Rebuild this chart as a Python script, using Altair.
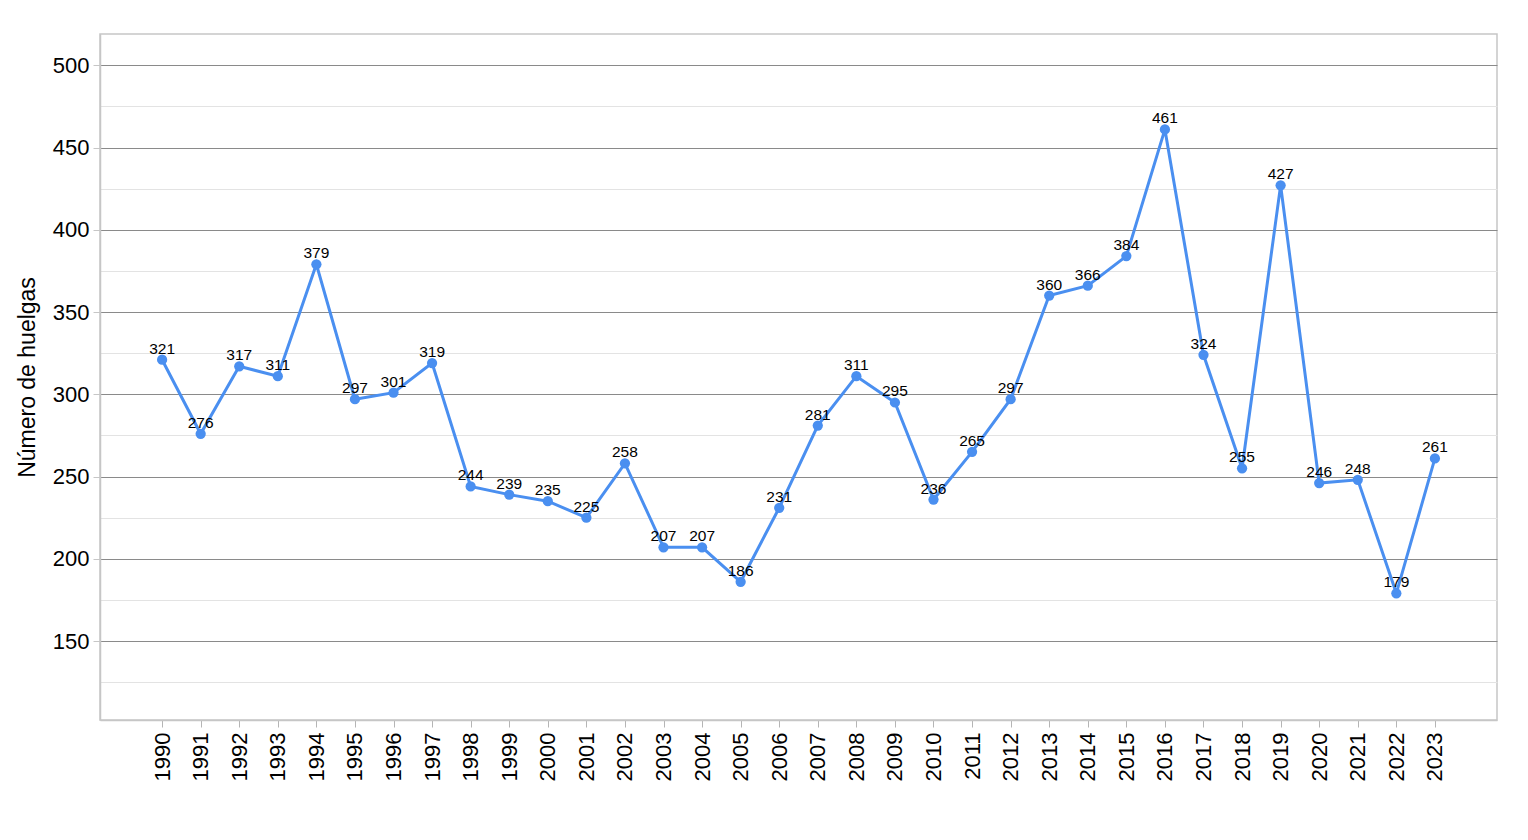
import altair as alt
import pandas as pd

years = list(range(1990, 2024))
huelgas = [
    321, 276, 317, 311, 379, 297, 301, 319, 244, 239,
    235, 225, 258, 207, 207, 186, 231, 281, 311, 295,
    236, 265, 297, 360, 366, 384, 461, 324, 255, 427,
    246, 248, 179, 261,
]
y_ticks = list(range(125, 501, 25))

df = pd.DataFrame({"Año": years, "Huelgas": huelgas})

font = "Liberation Sans"
blue = "#4a8ff0"

major = "datum.value % 50 === 0"

base = alt.Chart(df).encode(
    alt.X("Año:Q")
    .scale(domain=[1988.39, 2024.61], nice=False, zero=False)
    .axis(
        values=years,
        format="d",
        labelAngle=-90,
        labelFontSize=22,
        labelPadding=5,
        labelFlush=False,
        labelOverlap=False,
        tickSize=7,
        tickColor="#b5b5b5",
        domainColor="#c6c6c6",
        domainWidth=1.5,
        grid=False,
    )
    .title(None),
    alt.Y("Huelgas:Q")
    .scale(domain=[102, 519], nice=False, zero=False)
    .axis(
        values=y_ticks,
        labelExpr=f"{major} ? datum.label : ''",
        labelFontSize=22,
        labelPadding=4,
        tickSize=7,
        tickColor={"condition": {"test": major, "value": "#c6c6c6"}, "value": "rgba(0,0,0,0)"},
        gridColor={"condition": {"test": major, "value": "#8a8a8a"}, "value": "#e3e3e3"},
        gridWidth=1,
        domainColor="#c6c6c6",
        domainWidth=1.5,
        titleFontSize=23,
        titleFontWeight="normal",
        titlePadding=13,
    )
    .title("Número de huelgas"),
)

line = base.mark_line(color=blue, strokeWidth=3)
points = base.mark_circle(color=blue, size=105, opacity=1)
labels = base.mark_text(
    baseline="alphabetic", align="center", dy=-6, fontSize=15.5, color="black", font=font
).encode(text="Huelgas:Q")

chart = (
    alt.layer(line, points, labels)
    .properties(
        width=1397,
        height=686,
        autosize=alt.AutoSizeParams(type="none"),
        padding={"left": 92, "top": 26, "right": 15, "bottom": 100},
    )
    .configure(font=font)
    .configure_axis(labelFont=font, titleFont=font, labelColor="black", titleColor="black")
    .configure_view(stroke="#c6c6c6", strokeWidth=1.5)
)

chart.save("out.html", embed_options={"renderer": "svg", "actions": False})
